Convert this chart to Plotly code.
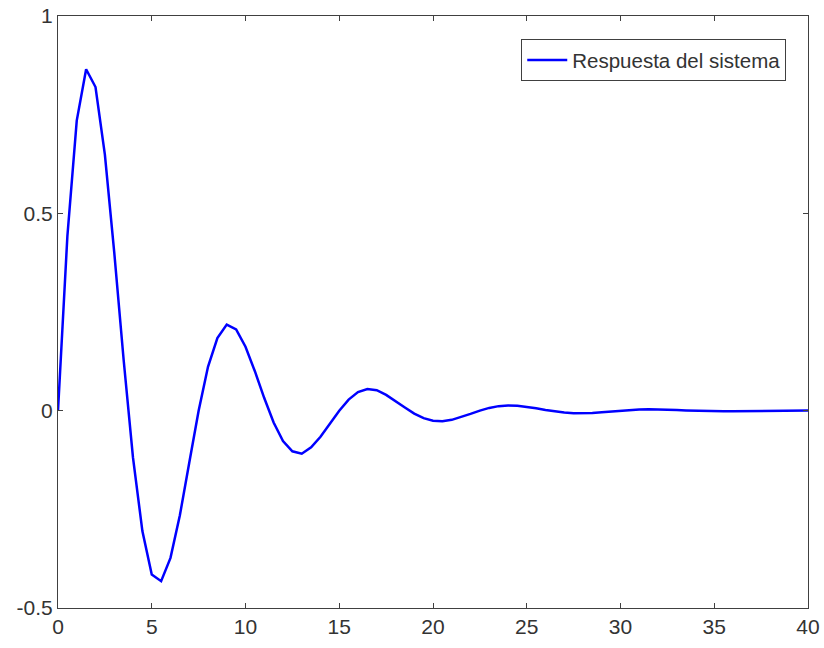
import plotly.graph_objects as go

# Time samples (s) and system response
t = [0, 0.5, 1.0, 1.5, 2.0, 2.5, 3.0, 3.5, 4.0, 4.5, 5.0, 5.5, 6.0, 6.5, 7.0, 7.5,
     8.0, 8.5, 9.0, 9.5, 10.0, 10.5, 11.0, 11.5, 12.0, 12.5, 13.0, 13.5, 14.0, 14.5,
     15.0, 15.5, 16.0, 16.5, 17.0, 17.5, 18.0, 18.5, 19.0, 19.5, 20.0, 20.5, 21.0,
     21.5, 22.0, 22.5, 23.0, 23.5, 24.0, 24.5, 25.0, 25.5, 26.0, 26.5, 27.0, 27.5,
     28.0, 28.5, 29.0, 29.5, 30.0, 30.5, 31.0, 31.5, 32.0, 32.5, 33.0, 33.5, 34.0,
     34.5, 35.0, 35.5, 36.0, 36.5, 37.0, 37.5, 38.0, 38.5, 39.0, 39.5, 40.0]
respuesta = [0.000, 0.442, 0.735, 0.865, 0.820, 0.649, 0.401, 0.129, -0.119, -0.305,
             -0.415, -0.432, -0.373, -0.265, -0.132, 0.000, 0.111, 0.184, 0.218, 0.206,
             0.162, 0.100, 0.032, -0.030, -0.077, -0.103, -0.109, -0.093, -0.066, -0.033,
             0.000, 0.028, 0.047, 0.055, 0.052, 0.040, 0.025, 0.008, -0.0075, -0.019,
             -0.0256, -0.0270, -0.0232, -0.0164, -0.0082, 0.0001, 0.0070, 0.0115, 0.0134,
             0.0127, 0.0101, 0.0062, 0.0019, -0.0019, -0.0048, -0.0064, -0.0066, -0.0058,
             -0.0041, -0.0020, 0.0000, 0.0017, 0.0029, 0.0033, 0.0032, 0.0025, 0.0015,
             0.0005, -0.0005, -0.0012, -0.0016, -0.0016, -0.0014, -0.0010, -0.0005,
             0.0000, 0.0004, 0.0007, 0.0008, 0.0008, 0.0006]

x_ticks = [0, 5, 10, 15, 20, 25, 30, 35, 40]
y_ticks = [-0.5, 0, 0.5, 1]
y_tick_labels = ["-0.5", "0", "0.5", "1"]

fig = go.Figure()
fig.add_trace(go.Scatter(x=t, y=respuesta, mode="lines", name="Respuesta del sistema",
                         line=dict(color="#0000FF", width=2.5)))

axis_common = dict(showgrid=False, zeroline=False, showline=True, linecolor="#404040",
                   linewidth=1, mirror="ticks", ticks="inside", ticklen=5,
                   tickcolor="#404040", tickfont=dict(size=21, color="#333333"),
                   ticklabeloverflow="allow", automargin=False)

fig.update_xaxes(range=[0, 40], tickvals=x_ticks, **axis_common)
fig.update_yaxes(range=[-0.5, 1], tickvals=y_ticks, ticktext=y_tick_labels, **axis_common)

fig.update_layout(
    width=824, height=648,
    margin=dict(l=58, r=16, t=16, b=40),
    paper_bgcolor="white", plot_bgcolor="white",
    font=dict(family="Liberation Sans, Arial, sans-serif", color="#333333"),
    showlegend=True,
    legend=dict(x=0.971, y=0.961, xanchor="right", yanchor="top",
                bgcolor="white", bordercolor="#404040", borderwidth=1,
                font=dict(size=20.5, color="#333333"), itemwidth=40),
)

fig.write_html("out.html", config={"displayModeBar": False},
               post_script="document.body.style.margin='0';document.body.style.overflow='hidden';")
